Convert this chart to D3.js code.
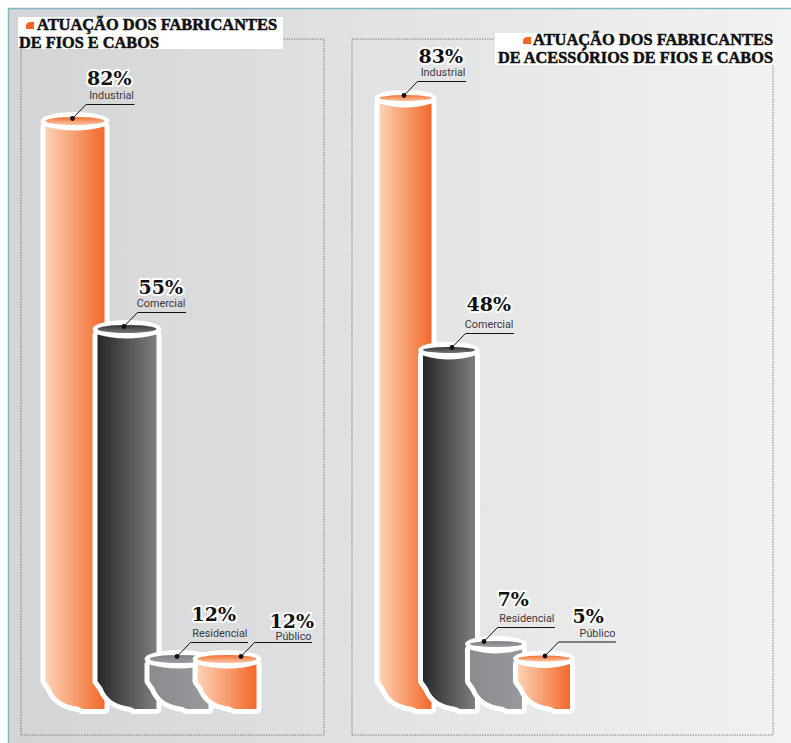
<!DOCTYPE html>
<html>
<head>
<meta charset="utf-8">
<style>
  html, body { margin: 0; padding: 0; background: #fff; }
  svg { display: block; }
</style>
<script src="https://cdn.jsdelivr.net/npm/d3@7"></script>
</head>
<body>
<svg id="chart" width="791" height="743"></svg>
<script>
// values
const categories = ['Industrial', 'Comercial', 'Residencial', 'Público'];
const fiosValues = [82, 55, 12, 12];
const acessoriosValues = [83, 48, 7, 5];
const fiosTitle = ['ATUAÇÃO DOS FABRICANTES', 'DE FIOS E CABOS'];
const acessoriosTitle = ['ATUAÇÃO DOS FABRICANTES', 'DE ACESSÓRIOS DE FIOS E CABOS'];

const svg = d3.select('#chart');
const defs = svg.append('defs');

function hGradient(id, from, to) {
  defs.append('linearGradient').attr('id', id)
    .selectAll('stop').data([from, to]).enter().append('stop')
    .attr('offset', (d, i) => i * 100 + '%')
    .attr('stop-color', d => d);
}
function vGradient(id, from, to) {
  defs.append('linearGradient').attr('id', id)
    .attr('x1', 0).attr('x2', 0).attr('y1', 0).attr('y2', 1)
    .selectAll('stop').data([from, to]).enter().append('stop')
    .attr('offset', (d, i) => i * 100 + '%')
    .attr('stop-color', d => d);
}
hGradient('bg', '#d3d4d6', '#f2f2f2');
hGradient('body-orange', '#fdd2b4', '#f2692a');
hGradient('body-dark', '#28282a', '#7d7e80');
hGradient('body-grey', '#8a8b8f', '#98999d');
vGradient('top-orange', '#f26f33', '#fcc7a4');
vGradient('top-dark', '#333335', '#77787a');
vGradient('top-grey', '#808185', '#9a9b9e');

const fills = ['orange', 'dark', 'grey', 'orange'];

// background and teal edge
svg.append('rect').attr('x', 8).attr('y', 8).attr('width', 783).attr('height', 735).attr('fill', 'url(#bg)');
svg.append('path').attr('d', 'M8.5,743V8.5H791').attr('fill', 'none').attr('stroke', '#7db9c4').attr('stroke-width', 1.4);

const baseY = 709;
const curveY = 681;

function bodyPath(cx, hw, cy) {
  const x0 = cx - hw, x1 = cx + hw;
  const p = d3.path();
  p.moveTo(x0, cy + 5.5);
  p.lineTo(x0, curveY);
  p.lineTo(x0 + 5, curveY + 7);
  p.bezierCurveTo(x0 + 9, curveY + 18, x0 + 18, curveY + 24, x0 + 33, curveY + 26);
  p.lineTo(x0 + 37, baseY);
  p.lineTo(x1, baseY);
  p.lineTo(x1, cy + 5.5);
  p.quadraticCurveTo(cx, cy + 13.5, x0, cy + 5.5);
  p.closePath();
  return p.toString();
}

function drawPanel(opt) {
  const g = svg.append('g');
  const y = d3.scaleLinear().domain(opt.domain).range(opt.range);
  const x = d3.scaleOrdinal().domain(categories).range(opt.centers);

  // dotted box
  g.append('rect')
    .attr('x', opt.box[0]).attr('y', 39)
    .attr('width', opt.box[1] - opt.box[0]).attr('height', 696)
    .attr('fill', 'none').attr('stroke', '#6f7072')
    .attr('stroke-width', 1).attr('stroke-dasharray', '1.3,1.3');

  // title
  g.append('rect')
    .attr('x', opt.titleBox[0]).attr('y', opt.titleBox[1])
    .attr('width', opt.titleBox[2]).attr('height', 32)
    .attr('fill', '#fff');
  const bx = opt.bullet[0], by = opt.bullet[1];
  g.append('path')
    .attr('d', `M${bx},${by + 7}V${by + 4}Q${bx},${by} ${bx + 5},${by}H${bx + 8}V${by + 7}Z`)
    .attr('fill', '#f26522');
  opt.title.forEach((t, i) => {
    g.append('text')
      .attr('x', opt.titleX[i][0]).attr('y', opt.titleY + i * 18)
      .attr('textLength', opt.titleX[i][1]).attr('lengthAdjust', 'spacingAndGlyphs')
      .attr('font-family', 'Liberation Serif').attr('font-weight', 700).attr('font-size', 17)
      .attr('fill', '#111').attr('stroke', '#111').attr('stroke-width', 0.55)
      .text(t);
  });

  // columns, later ones sit on top of the earlier ones
  opt.values.forEach((v, i) => {
    const c = categories[i];
    const cx = x(c), cy = y(v), hw = opt.hw;
    const col = g.append('g');
    col.append('path').attr('d', bodyPath(cx, hw, cy))
      .attr('fill', '#fff').attr('stroke', '#fff')
      .attr('stroke-width', opt.edge * 2).attr('stroke-linejoin', 'round');
    col.append('ellipse').attr('cx', cx).attr('cy', cy)
      .attr('rx', hw + opt.edge).attr('ry', opt.ry).attr('fill', '#fff');
    col.append('path').attr('d', bodyPath(cx, hw, cy))
      .attr('fill', `url(#body-${fills[i]})`);
    col.append('ellipse').attr('cx', cx).attr('cy', cy)
      .attr('rx', hw).attr('ry', opt.ry - 5).attr('fill', `url(#top-${fills[i]})`);
  });

  // leaders and labels go above all the columns
  opt.values.forEach((v, i) => {
    const c = categories[i];
    const dotX = x(c) + opt.dotDx[i], dotY = y(v) - 2.5;
    const elbowX = dotX + 13.5, elbowY = dotY - 14;
    const endX = dotX + (i < 2 ? 62 : 71);
    g.append('path')
      .attr('d', `M${dotX},${dotY}L${elbowX},${elbowY}H${endX}`)
      .attr('fill', 'none').attr('stroke', '#111').attr('stroke-width', 1);
    g.append('circle').attr('cx', dotX).attr('cy', dotY).attr('r', 2.4).attr('fill', '#111');
    g.append('text')
      .attr('x', endX - 0.5).attr('y', elbowY - opt.labelDy[i])
      .attr('text-anchor', 'end')
      .attr('font-family', 'Roboto').attr('font-size', 10.8).attr('fill', '#3a3a3c')
      .text(c);
    g.append('text')
      .attr('x', elbowX + opt.valueDx[i]).attr('y', elbowY - opt.valueDy[i])
      .attr('font-family', 'DejaVu Serif').attr('font-weight', 700).attr('font-size', 19)
      .attr('fill', '#111').attr('stroke', '#fff').attr('stroke-width', 4)
      .attr('stroke-linejoin', 'round').attr('paint-order', 'stroke')
      .text(v + '%');
  });
}

drawPanel({
  values: fiosValues,
  title: fiosTitle,
  domain: [12, 55, 82],
  range: [659, 329, 121],
  centers: [75, 127, 179, 227],
  hw: 29.5, edge: 5, ry: 9,
  box: [21, 324],
  titleBox: [18, 17, 265],
  bullet: [26, 22],
  titleX: [[37, 240], [19, 140]],
  titleY: 30,
  dotDx: [-2.5, -3, -2, 14],
  labelDy: [5.5, 6, 6, 3],
  valueDx: [1, 1, 1, 15],
  valueDy: [19.5, 18.5, 22, 15]
});

drawPanel({
  values: acessoriosValues,
  title: acessoriosTitle,
  domain: [5, 7, 48, 83],
  range: [658.5, 644, 350, 98],
  centers: [405.5, 449, 496, 544],
  hw: 26, edge: 5, ry: 8,
  box: [352, 773],
  titleBox: [495, 33, 280],
  bullet: [523, 37],
  titleX: [[533, 240], [498, 275]],
  titleY: 45,
  dotDx: [-1.5, 3, -12, 1],
  labelDy: [5.5, 6, 6, 5],
  valueDx: [1, 1, 0, 14],
  valueDy: [19, 23, 22, 19]
});
</script>
</body>
</html>
